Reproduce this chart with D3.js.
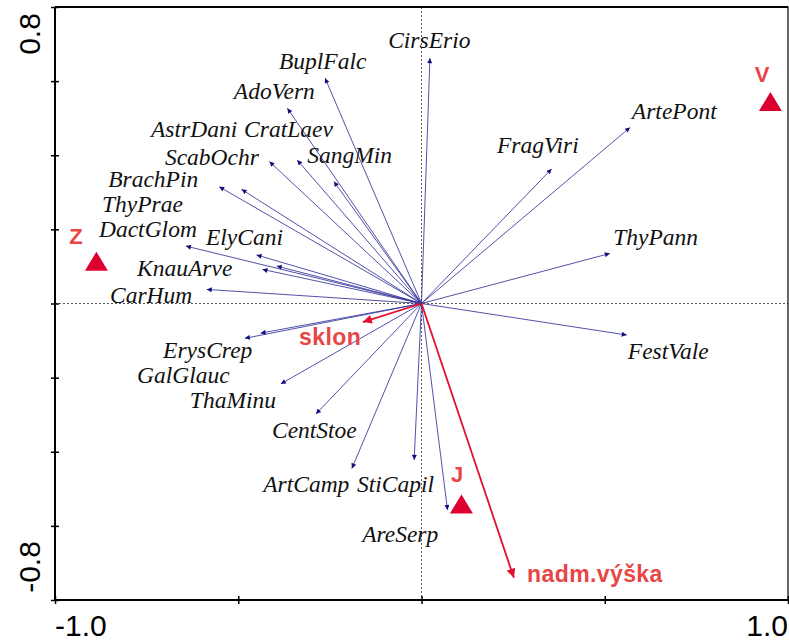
<!DOCTYPE html>
<html><head><meta charset="utf-8">
<script src="https://cdn.jsdelivr.net/npm/d3@7"></script>
<style>body{margin:0;background:#fff}</style>
</head><body>
<svg id="chart" width="789" height="644"></svg>
<script>
// ---- data (ordination scores) ----
const species = ["BuplFalc","AdoVern","AstrDani","CratLaev","SangMin","ScabOchr","BrachPin","ThyPrae","DactGlom","ElyCani","KnauArve","CarHum",
  "CirsErio","ArtePont","FragViri","ThyPann","FestVale",
  "ErysCrep","GalGlauc","ThaMinu","CentStoe","ArtCamp","StiCapil","AreSerp"];
const speciesX = [-0.263,-0.366,-0.415,-0.339,-0.239,-0.491,-0.552,-0.395,-0.643,-0.450,-0.434,-0.586,
  0.023,0.569,0.355,0.514,0.560,
  -0.439,-0.482,-0.384,-0.288,-0.190,-0.020,0.071];
const speciesY = [0.608,0.527,0.383,0.387,0.329,0.308,0.315,0.101,0.155,0.131,0.092,0.038,
  0.662,0.475,0.363,0.135,-0.085,
  -0.080,-0.094,-0.217,-0.298,-0.445,-0.422,-0.557];
// label anchor (left/baseline) in ordination units
const speciesLabelX = [-0.389,-0.512,-0.738,-0.484,-0.312,-0.700,-0.855,-0.872,-0.880,-0.588,-0.776,-0.850,
  -0.091,0.574,0.206,0.523,0.563,
  -0.705,-0.776,-0.632,-0.408,-0.432,-0.176,-0.162];
const speciesLabelY = [0.633,0.552,0.449,0.449,0.379,0.374,0.314,0.247,0.180,0.158,0.074,0.001,
  0.689,0.498,0.406,0.158,-0.150,
  -0.147,-0.215,-0.282,-0.363,-0.509,-0.509,-0.644];

const envVars = ["sklon","nadm.výška"];
const envX = [-0.160, 0.252];
const envY = [-0.050, -0.740];
const envLabelX = [-0.334, 0.288];
const envLabelY = [-0.112, -0.751];

const samples = ["Z","V","J"];
const sampleX = [-0.887, 0.952, 0.109];
const sampleY = [0.114, 0.545, -0.541];
const sampleLabelX = [-0.943, 0.929, 0.097];
const sampleLabelY = [0.161, 0.598, -0.482];

const xTicks = [-1, -0.5, 0, 0.5, 1];
const yTicks = [-0.8, -0.6, -0.4, -0.2, 0, 0.2, 0.4, 0.6, 0.8];
const xTickLabels = ["-1.0", "1.0"];
const xTickLabelValues = [-1, 1];
const yTickLabels = ["-0.8", "0.8"];
const yTickLabelValues = [-0.8, 0.8];

// ---- drawing ----
const svg = d3.select("#chart");
const L = 55, R = 788, T = 7, B = 600;
const x = d3.scaleLinear().domain([-1, 1]).range([L, R]);
const y = d3.scaleLinear().domain([-0.8, 0.8]).range([B, T]);

const defs = svg.append("defs");
defs.append("marker").attr("id","ahBlue").attr("markerUnits","userSpaceOnUse")
  .attr("viewBox","0 0 10 10").attr("refX",10).attr("refY",5)
  .attr("markerWidth",7).attr("markerHeight",5).attr("orient","auto")
  .append("path").attr("d","M0,0L10,5L0,10z").attr("fill","#10107a");
defs.append("marker").attr("id","ahRed").attr("markerUnits","userSpaceOnUse")
  .attr("viewBox","0 0 10 10").attr("refX",10).attr("refY",5)
  .attr("markerWidth",14).attr("markerHeight",9).attr("orient","auto")
  .append("path").attr("d","M0,0L10,5L0,10z").attr("fill","#e3102e");

// dotted zero lines
svg.append("line").attr("x1",x(0)).attr("x2",x(0)).attr("y1",T).attr("y2",B)
  .attr("stroke","#555").attr("stroke-width",1).attr("stroke-dasharray","2,2");
svg.append("line").attr("x1",L).attr("x2",R).attr("y1",y(0)).attr("y2",y(0))
  .attr("stroke","#555").attr("stroke-width",1).attr("stroke-dasharray","2,2");

// species arrows
const sp = species.map((n,i)=>({n, x:speciesX[i], y:speciesY[i], lx:speciesLabelX[i], ly:speciesLabelY[i]}));
svg.append("g").selectAll("line").data(sp).join("line")
  .attr("x1",x(0)).attr("y1",y(0))
  .attr("x2",d=>x(d.x)).attr("y2",d=>y(d.y))
  .attr("stroke","#33339a").attr("stroke-width",0.85)
  .attr("marker-end","url(#ahBlue)");
svg.append("g").selectAll("text").data(sp).join("text")
  .attr("x",d=>x(d.lx)).attr("y",d=>y(d.ly))
  .attr("font-family","'Liberation Serif','Times New Roman',serif")
  .attr("font-style","italic").attr("font-size",23.5)
  .attr("fill","#111").text(d=>d.n);

// environmental arrows
const env = envVars.map((n,i)=>({n, x:envX[i], y:envY[i], lx:envLabelX[i], ly:envLabelY[i]}));
svg.append("g").selectAll("line").data(env).join("line")
  .attr("x1",x(0)).attr("y1",y(0))
  .attr("x2",d=>x(d.x)).attr("y2",d=>y(d.y))
  .attr("stroke","#e3102e").attr("stroke-width",1.8)
  .attr("marker-end","url(#ahRed)");
svg.append("g").selectAll("text").data(env).join("text")
  .attr("x",d=>x(d.lx)).attr("y",d=>y(d.ly))
  .attr("font-family","'Liberation Sans',Arial,sans-serif").attr("font-weight","bold")
  .attr("font-size",23).attr("letter-spacing",0.4)
  .attr("fill","#e84545").text(d=>d.n);

// samples
const sm = samples.map((n,i)=>({n, x:sampleX[i], y:sampleY[i], lx:sampleLabelX[i], ly:sampleLabelY[i]}));
const tw = 23, th = 19;
svg.append("g").selectAll("path").data(sm).join("path")
  .attr("transform",d=>`translate(${x(d.x)},${y(d.y)})`)
  .attr("d",`M0,${-th/2}L${tw/2},${th/2}L${-tw/2},${th/2}Z`)
  .attr("fill","#dc0030");
svg.append("g").selectAll("text").data(sm).join("text")
  .attr("x",d=>x(d.lx)).attr("y",d=>y(d.ly)).attr("text-anchor","middle")
  .attr("font-family","'Liberation Sans',Arial,sans-serif").attr("font-weight","bold")
  .attr("font-size",22).attr("fill","#e84545").text(d=>d.n);

// axes ticks (straddling the frame)
const gx = svg.append("g").attr("transform",`translate(0,${B})`)
  .call(d3.axisBottom(x).tickValues(xTicks).tickSizeInner(4).tickSizeOuter(0).tickFormat(""));
gx.select(".domain").remove();
gx.selectAll(".tick line").attr("y1",-4).attr("stroke","#000").attr("stroke-width",1.5);
const gy = svg.append("g").attr("transform",`translate(${L},0)`)
  .call(d3.axisLeft(y).tickValues(yTicks).tickSizeInner(4).tickSizeOuter(0).tickFormat(""));
gy.select(".domain").remove();
gy.selectAll(".tick line").attr("x1",4).attr("stroke","#000").attr("stroke-width",1.5);

// frame
svg.append("rect").attr("x",L).attr("y",T).attr("width",R-L).attr("height",B-T)
  .attr("fill","none").attr("stroke","#000").attr("stroke-width",1.2);
svg.append("line").attr("x1",L).attr("x2",L).attr("y1",T).attr("y2",B+1).attr("stroke","#000").attr("stroke-width",2);
svg.append("line").attr("x1",L-1).attr("x2",R).attr("y1",B).attr("y2",B).attr("stroke","#000").attr("stroke-width",2);
svg.append("line").attr("x1",L).attr("x2",R).attr("y1",T).attr("y2",T).attr("stroke","#000").attr("stroke-width",2);

// tick labels
svg.append("g").selectAll("text").data(xTickLabels).join("text")
  .attr("x",(d,i)=>x(xTickLabelValues[i])).attr("y",636)
  .attr("text-anchor",(d,i)=>i===0?"start":"end")
  .attr("font-family","'Liberation Sans',Arial,sans-serif").attr("font-size",30)
  .attr("fill","#000").text(d=>d);
svg.append("g").selectAll("text").data(yTickLabels).join("text")
  .attr("transform",(d,i)=>`translate(40,${i===0 ? 567 : 34}) rotate(-90)`)
  .attr("text-anchor","middle")
  .attr("font-family","'Liberation Sans',Arial,sans-serif").attr("font-size",30)
  .attr("fill","#000").text(d=>d);
</script>
</body></html>
